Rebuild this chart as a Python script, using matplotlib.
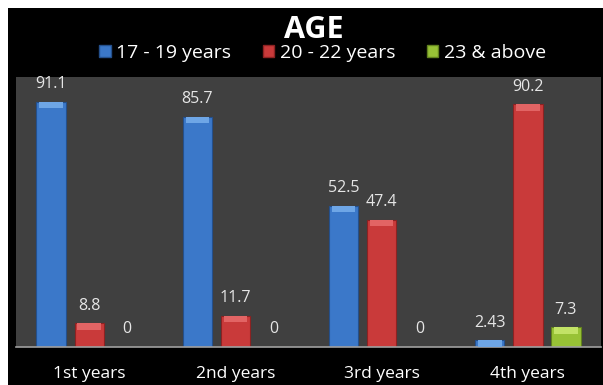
import matplotlib.pyplot as plt
import numpy as np
from matplotlib.patches import Rectangle, Patch

# data
categories = ['1st years', '2nd years', '3rd years', '4th years']
series = ['17 - 19 years', '20 - 22 years', '23 & above']
age_17_19 = [91.1, 85.7, 52.5, 2.43]
age_20_22 = [8.8, 11.7, 47.4, 90.2]
age_23_up = [0, 0, 0, 7.3]

colors = ['#3b78c9', '#c93a3a', '#98c236']
tops = ['#6ea6e6', '#e26464', '#c2e266']
edges = ['#24508c', '#8c2222', '#62821e']

plt.rcParams['font.family'] = ['Open Sans', 'DejaVu Sans']

fig = plt.figure(figsize=(6.03, 3.85), dpi=100, facecolor='white')
fig.patches.append(Rectangle((8/603, 0), 1, 377/385, transform=fig.transFigure,
                             facecolor='black', edgecolor='none', zorder=-5))
ax = fig.add_axes([16/603, 1-347/385, 585/603, 270/385])
ax.set_facecolor('#404040')

x = np.arange(len(categories))
offs = [-0.26, 0, 0.26]
w = 0.2
cap = 2.4
for vals, off, c, tc, ec in zip([age_17_19, age_20_22, age_23_up], offs, colors, tops, edges):
    vals = np.array(vals)
    ax.bar(x + off, vals, w, color=c, edgecolor=ec, linewidth=0.8, zorder=2)
    # lighter top bevel
    capv = np.where(vals > 0, np.minimum(cap, vals), 0)
    ax.bar(x + off, capv, w*0.8, bottom=vals - capv, color=tc, edgecolor='none', zorder=3)
    for xi, v in zip(x + off, vals):
        ax.annotate(f'{v:g}', (xi, v), xytext=(0, 7), textcoords='offset points',
                    ha='center', va='bottom', color='#e6e6e6', fontsize=11.5)

ax.set_xlim(-0.5, 3.5)
ax.set_ylim(0, 100.4)
ax.set_yticks([])
ax.set_xticks(x)
ax.set_xticklabels(categories, color='white', fontsize=12.5)
ax.tick_params(axis='x', length=0, pad=14)
for s in ['top', 'left', 'right']:
    ax.spines[s].set_visible(False)
ax.spines['bottom'].set_color('#a0a0a0')
ax.spines['bottom'].set_linewidth(1.2)

fig.text(0.52, 1-30/385, 'AGE', ha='center', va='center', color='white',
         fontsize=22, fontweight='bold')
handles = [Patch(facecolor=c, edgecolor=e) for c, e in zip(colors, edges)]
leg = fig.legend(handles, series, loc='center', bbox_to_anchor=(0.535, 1-53/385),
                 ncol=3, frameon=False, fontsize=14, handlelength=0.6, handleheight=0.6,
                 handletextpad=0.3, columnspacing=1.6, borderpad=0)
for t in leg.get_texts():
    t.set_color('white')

fig.savefig('out.png', dpi=100, facecolor=fig.get_facecolor())
